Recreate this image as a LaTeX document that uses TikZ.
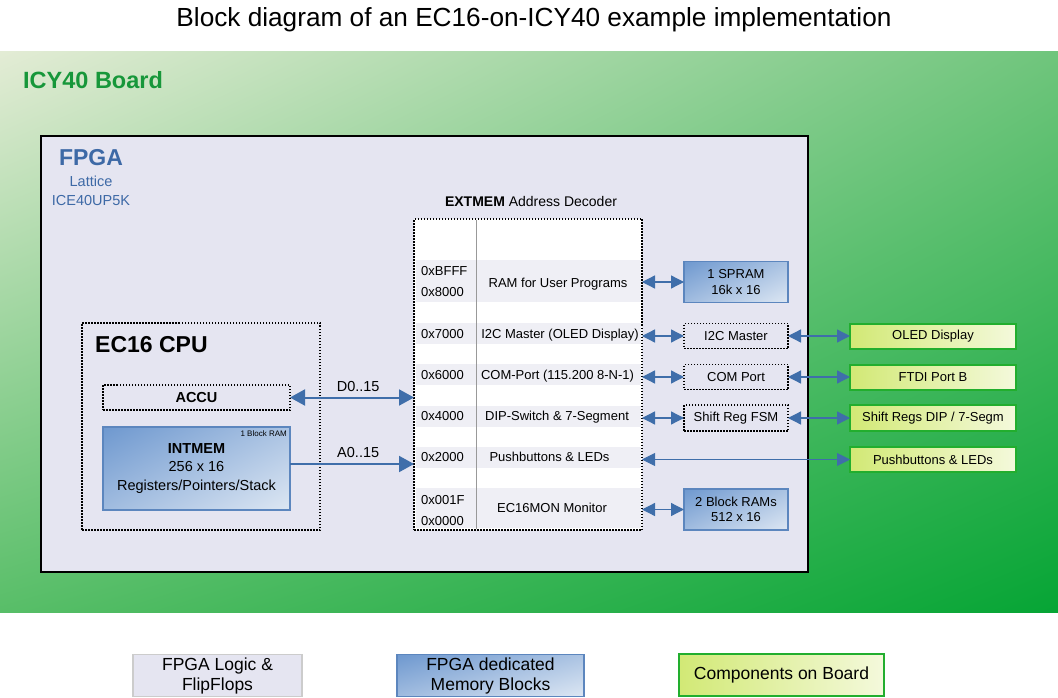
\documentclass[tikz,border=0pt]{standalone}
\usepackage{fontspec}
\setmainfont{Liberation Sans}
\usepackage{xcolor}
\usepackage{tikz}
\usetikzlibrary{positioning, calc, arrows.meta, shadings}
\definecolor{boardlight}{HTML}{E3ECD5}
\definecolor{boardmid}{HTML}{6FC57C}
\definecolor{boardleft}{HTML}{58BE68}
\definecolor{boarddark}{HTML}{06A535}
\definecolor{boardtext}{HTML}{17973A}
\definecolor{fpgafill}{HTML}{E5E5F1}
\definecolor{fpgablue}{HTML}{3D69A6}
\definecolor{linkblue}{HTML}{3F6EAA}
\definecolor{ramdark}{HTML}{6E98CF}
\definecolor{ramlight}{HTML}{DDE7F3}
\definecolor{ramedge}{HTML}{5C86BE}
\definecolor{compdark}{HTML}{D2E975}
\definecolor{complight}{HTML}{F4F9DC}
\definecolor{compedge}{HTML}{22AE2E}
\definecolor{bandgray}{HTML}{EFEFF5}
\newcommand{\fsz}[2]{\fontsize{#1}{#2}\selectfont}

\begin{document}
\begin{tikzpicture}[x=1pt, y=-1pt,
    fpgabox/.style={draw=black, line width=2pt, fill=fpgafill, inner sep=0pt},
    logic/.style={draw, dash pattern=on 1.5pt off 1.5pt, line width=1.5pt, fill=fpgafill,
                  inner sep=0pt, outer sep=0pt, font=\fsz{13}{15}},
    ram/.style={draw=ramedge, line width=1.5pt, upper left=ramdark, lower right=ramlight,
                upper right=ramdark!45!ramlight, lower left=ramdark!55!ramlight,
                inner sep=0pt, outer sep=0pt, align=center, font=\fsz{13}{15.5}},
    comp/.style={draw=compedge, line width=2pt, left color=compdark, right color=complight,
                 inner sep=0pt, outer sep=0pt, align=center, font=\fsz{13}{15}},
    band/.style={fill=bandgray, inner sep=0pt, minimum width=225, minimum height=21},
    addr/.style={font=\fsz{13}{15}, anchor=west, inner sep=0pt, text height=9pt, text depth=0pt},
    desc/.style={font=\fsz{13}{15}, inner sep=0pt, text height=9pt, text depth=0pt},
    link/.style={linkblue, line width=1.3pt, >={Triangle[width=13pt,length=13pt]}},
    bus/.style={linkblue, line width=2pt, >={Triangle[width=16pt,length=15pt]}},
    buslabel/.style={font=\fsz{14.5}{17}, text=black, inner sep=0pt, above=5pt},
    legend/.style={minimum height=42, align=center, inner sep=0pt},
  ]

  \useasboundingbox (0,0) rectangle (1058,698);

  % --- title ---
  \node[font=\fsz{26.2}{30}, inner sep=0pt] (title) at (534,20)
    {Block diagram of an EC16-on-ICY40 example implementation};

  % --- board ---
  \shade[upper left=boardlight, upper right=boardmid, lower left=boardleft, lower right=boarddark]
    (0,52) rectangle (1058,612);
  \node[font=\bfseries\fsz{23.5}{27}, text=boardtext, anchor=west, inner sep=0pt] (board) at (23,80) {ICY40 Board};

  % --- FPGA ---
  \node[fpgabox, minimum width=767, minimum height=436] (fpga) at (424.5,354) {};
  \node[font=\bfseries\fsz{23}{27}, text=fpgablue, inner sep=0pt] (fpgatitle) at (91,158) {FPGA};
  \node[font=\fsz{14.5}{19}, text=fpgablue, align=center, inner sep=0pt] (fpgatype) at (91,191)
    {Lattice\\ICE40UP5K};

  % --- EC16 CPU ---
  \node[logic, minimum width=238, minimum height=207] (cpu) at (201,426.5) {};
  \node[font=\bfseries\fsz{23}{27}, anchor=west, inner sep=0pt] (cputitle) at (95,345) {EC16 CPU};
  \node[logic, minimum width=187, minimum height=25, font=\bfseries\fsz{14.5}{17}] (accu) at (196.5,397.5) {ACCU};
  \node[ram, minimum width=187, minimum height=83, font=\fsz{14.5}{18.5}] (intmem) at (196.5,468.5)
    {\textbf{INTMEM}\\256 x 16\\Registers/Pointers/Stack};
  \node[font=\fsz{8}{9}, anchor=north east, inner sep=0pt] (intram) at ($(intmem.north east)+(-3,4)$) {1 Block RAM};

  % --- EXTMEM address decoder ---
  \node[logic, fill=white, minimum width=228, minimum height=311] (extmem) at (528,374.5) {};
  \node[font=\fsz{14}{17}, inner sep=0pt] (extlabel) at (531,201) {\textbf{EXTMEM} Address Decoder};
  \node[band, minimum height=42] (b1) at (528,281) {};
  \node[band] (b2) at (528,333) {};
  \node[band] (b3) at (528,374.5) {};
  \node[band] (b4) at (528,416) {};
  \node[band] (b5) at (528,457) {};
  \node[band, minimum height=40] (b6) at (528,508) {};
  \draw[gray!80, line width=0.8pt] ($(extmem.north west)+(62,1)$) -- ($(extmem.south west)+(62,-1)$);

  \node[addr] (a1) at (421,271) {0xBFFF};
  \node[addr] (a2) at (421,292) {0x8000};
  \node[addr] (a3) at (421,333.5) {0x7000};
  \node[addr] (a4) at (421,375) {0x6000};
  \node[addr] (a5) at (421,416) {0x4000};
  \node[addr] (a6) at (421,457) {0x2000};
  \node[addr] (a7) at (421,500) {0x001F};
  \node[addr] (a8) at (421,521) {0x0000};

  \node[desc] (d1) at (558,283) {RAM for User Programs};
  \node[desc] (d2) at (560,333.5) {I2C Master (OLED Display)};
  \node[desc] (d3) at (557.5,375) {COM-Port (115.200 8-N-1)};
  \node[desc] (d4) at (557,416) {DIP-Switch \& 7-Segment};
  \node[desc] (d5) at (549.5,457) {Pushbuttons \& LEDs};
  \node[desc] (d6) at (552,507.5) {EC16MON Monitor};

  % --- FPGA blocks ---
  \node[ram, minimum width=104, minimum height=41] (spram) at (736,282) {1 SPRAM\\16k x 16};
  \node[logic, minimum width=104, minimum height=25] (i2c) at (736,336) {I2C Master};
  \node[logic, minimum width=104, minimum height=25] (com) at (736,377) {COM Port};
  \node[logic, minimum width=104, minimum height=26] (shreg) at (736,418) {Shift Reg FSM};
  \node[ram, minimum width=104, minimum height=41] (blkram) at (736,509.5) {2 Block RAMs\\512 x 16};

  % --- board components ---
  \node[comp, minimum width=166, minimum height=25] (oled) at (933,336) {OLED Display};
  \node[comp, minimum width=166, minimum height=25] (ftdi) at (933,377) {FTDI Port B};
  \node[comp, minimum width=166, minimum height=26] (shregs) at (933,418) {Shift Regs DIP / 7-Segm};
  \node[comp, minimum width=166, minimum height=25] (push) at (933,459.5) {Pushbuttons \& LEDs};

  % --- connections ---
  \draw[bus, <->] (accu.east) -- (accu.east -| extmem.west) node[buslabel, pos=0.55] {D0..15};
  \draw[bus, ->] ([yshift=4.5pt]intmem.east) -- ([yshift=4.5pt]intmem.east -| extmem.west)
    node[buslabel, pos=0.55] {A0..15};
  \draw[link, <->] (extmem.east |- spram.west) -- (spram.west);
  \draw[link, <->] (extmem.east |- i2c.west) -- (i2c.west);
  \draw[link, <->] (extmem.east |- com.west) -- (com.west);
  \draw[link, <->] (extmem.east |- shreg.west) -- (shreg.west);
  \draw[link, <->] (extmem.east |- blkram.west) -- (blkram.west);
  \draw[link, <->, line width=0.9pt] (extmem.east |- push.west) -- (push.west);
  \draw[link, <->] (i2c.east) -- (oled.west);
  \draw[link, <->] (com.east) -- (ftdi.west);
  \draw[link, <->] (shreg.east) -- (shregs.west);

  % --- legend ---
  \node[legend, draw=gray!40, line width=1.5pt, fill=fpgafill, minimum width=169, font=\fsz{17.5}{20}]
    (lglogic) at (217.5,675.5) {FPGA Logic \&\\FlipFlops};
  \node[legend, ram, minimum width=187, font=\fsz{17.5}{20}] (lgram) at (490.5,675.5)
    {FPGA dedicated\\Memory Blocks};
  \node[legend, comp, minimum width=205, font=\fsz{17.5}{20}] (lgcomp) at (781.5,675) {Components on Board};

\end{tikzpicture}
\end{document}
